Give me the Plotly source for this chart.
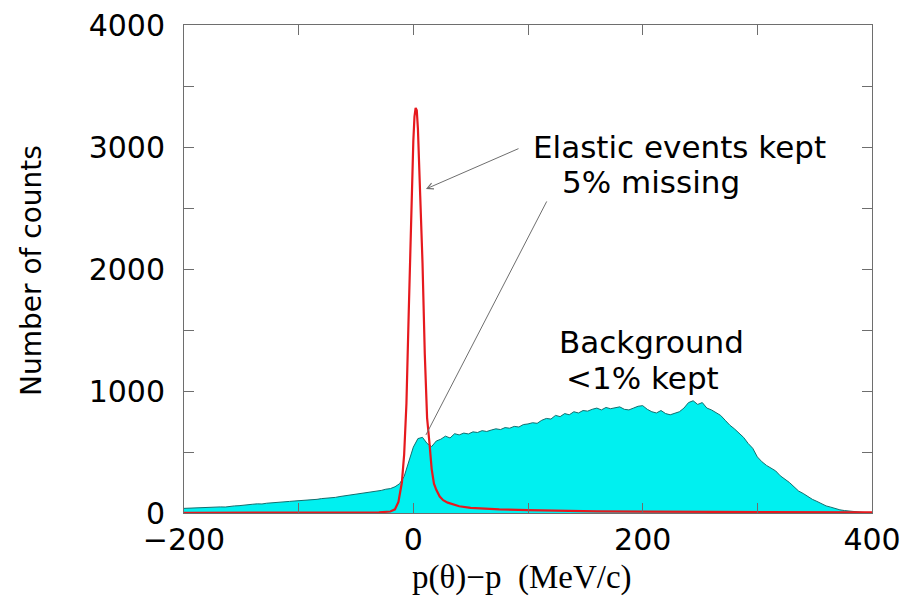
import plotly.graph_objects as go

# Background (cyan) histogram: bin centres every 4 MeV/c from -200 to 400
bg_x = list(range(-200, 401, 4))
bg_counts = [
    38, 40, 39, 42, 44, 43, 46, 48, 50, 49, 55, 58, 60, 66, 70, 72, 75, 74, 80, 82,
    86, 88, 92, 95, 98, 100, 104, 108, 106, 112, 118, 120, 125, 128, 135, 140, 145, 150, 156, 160,
    165, 172, 178, 185, 195, 200, 215, 240, 300, 420, 540, 610, 620, 570, 545, 590, 605, 630, 615, 650,
    640, 655, 648, 665, 660, 675, 668, 680, 690, 684, 700, 695, 710, 705, 725, 730, 740, 735, 760, 775,
    770, 800, 790, 815, 805, 830, 820, 840, 835, 850, 860, 845, 865, 855, 860, 870, 850, 845, 860, 875,
    880, 850, 830, 820, 840, 815, 805, 820, 830, 860, 905, 920, 890, 905, 860, 845, 820, 800, 760, 720,
    690, 655, 620, 570, 530, 460, 420, 390, 370, 345, 305, 280, 250, 215, 180, 160, 135, 112, 95, 75,
    58, 48, 35, 26, 20, 15, 12, 8, 5, 3, 2,
]

# Elastic events (red)
el_x = [-200, -100, -50, -30, -20, -16, -13, -10, -8, -6, -4, -2, 0, 1, 2, 3, 4, 6, 8, 10,
        12, 14, 16, 18, 20, 23, 26, 30, 35, 40, 50, 60, 75, 100, 130, 160, 200, 250, 300, 350, 400]
el_counts = [2, 3, 4, 6, 12, 30, 90, 250, 480, 900, 1650, 2450, 3050, 3250, 3320, 3300, 3150, 2600, 2050, 1300,
             780, 580, 360, 240, 190, 135, 105, 85, 68, 55, 42, 36, 30, 24, 17, 14, 11, 9, 7, 6, 5]

x_tickvals = [-200, -100, 0, 100, 200, 300, 400]
x_ticktext = ["\u2212200", "", "0", "", "200", "", "400"]
y_tickvals = [0, 500, 1000, 1500, 2000, 2500, 3000, 3500, 4000]
y_ticktext = ["0", "", "1000", "", "2000", "", "3000", "", "4000"]

fig = go.Figure()
fig.add_trace(go.Scatter(
    x=bg_x, y=bg_counts, mode="lines", fill="tozeroy",
    fillcolor="rgb(0,240,240)", line=dict(color="rgb(20,110,110)", width=1),
    showlegend=False, hoverinfo="skip",
))
fig.add_trace(go.Scatter(
    x=el_x, y=el_counts, mode="lines",
    line=dict(color="rgb(230,25,30)", width=2.2),
    showlegend=False, hoverinfo="skip",
))

txt_font = dict(family="DejaVu Sans", size=31, color="black")
grey = "rgb(110,110,110)"

annotations = [
    dict(x=232, y=3000, xref="x", yref="y", text="Elastic events kept", showarrow=False,
         font=txt_font, xanchor="center", yanchor="middle"),
    dict(x=207, y=2713, xref="x", yref="y", text="5% missing", showarrow=False,
         font=txt_font, xanchor="center", yanchor="middle"),
    dict(x=208, y=1402, xref="x", yref="y", text="Background", showarrow=False,
         font=txt_font, xanchor="center", yanchor="middle"),
    dict(x=200, y=1107, xref="x", yref="y", text="&lt;1% kept", showarrow=False,
         font=txt_font, xanchor="center", yanchor="middle"),
    # arrow to elastic peak
    dict(x=11, y=2656, xref="x", yref="y", ax=93, ay=2992, axref="x", ayref="y",
         text="", showarrow=True, arrowhead=5, arrowsize=1.2, arrowwidth=1, arrowcolor=grey),
    # line to missing part
    dict(x=11, y=640, xref="x", yref="y", ax=117, ay=2566, axref="x", ayref="y",
         text="", showarrow=True, arrowhead=0, arrowwidth=1, arrowcolor=grey),
    # axis titles
    dict(x=-0.221, y=0.498, xref="paper", yref="paper", text="Number of counts",
         textangle=-90, showarrow=False, font=dict(family="DejaVu Sans", size=28, color="black"),
         xanchor="center", yanchor="middle"),
    dict(x=0.491, y=-0.133, xref="paper", yref="paper",
         text="p(\u03b8)\u2212p\u00a0\u00a0(MeV/c)", showarrow=False,
         font=dict(family="Liberation Serif", size=33, color="black"),
         xanchor="center", yanchor="middle"),
]

axis_common = dict(
    showgrid=False, zeroline=False, showline=True, linecolor=grey, linewidth=1,
    mirror="ticks", ticks="inside", ticklen=10, tickcolor=grey, tickwidth=1,
    tickfont=dict(family="DejaVu Sans", size=30, color="black"),
    ticklabeloverflow="allow",
)

fig.update_layout(
    width=901, height=598,
    margin=dict(l=184, r=29, t=25, b=85, autoexpand=False),
    paper_bgcolor="white", plot_bgcolor="white",
    xaxis=dict(range=[-200, 400], tickmode="array", tickvals=x_tickvals, ticktext=x_ticktext,
               **axis_common),
    yaxis=dict(range=[0, 4000], tickmode="array", tickvals=y_tickvals, ticktext=y_ticktext,
               ticklabelstandoff=12, **axis_common),
    annotations=annotations,
)

# remove the default page margin so the figure sits at the window's top-left corner
fig.write_html(
    "out.html",
    config={"displayModeBar": False},
    post_script="document.body.style.margin='0';document.body.style.overflow='hidden';",
)
